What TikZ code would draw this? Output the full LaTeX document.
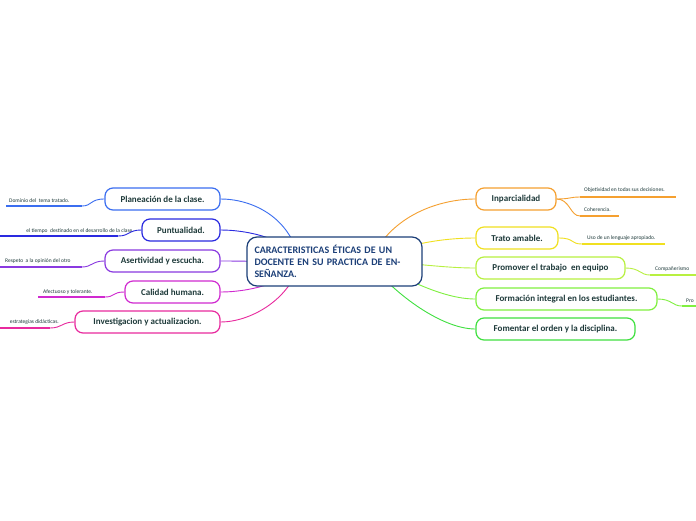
\documentclass[tikz,border=0pt]{standalone}
\usepackage{fontspec}
\setmainfont{Carlito}
\definecolor{txt}{HTML}{1E3A3A}
\definecolor{cb}{HTML}{1C3F78}
\definecolor{c1}{HTML}{3B6EF0}
\definecolor{c2}{HTML}{2A2AE0}
\definecolor{c3}{HTML}{8A3AE0}
\definecolor{c4}{HTML}{D02AD0}
\definecolor{c5}{HTML}{E82A9E}
\definecolor{r1}{HTML}{F5A030}
\definecolor{r2}{HTML}{F0E020}
\definecolor{r3}{HTML}{B8F040}
\definecolor{r4}{HTML}{80F040}
\definecolor{r5}{HTML}{40E040}
\tikzset{
 box/.style={draw=#1,line width=1.2pt,rounded corners=8pt,fill=white,text=txt,font=\fontsize{9}{10}\selectfont\bfseries,minimum height=22pt,inner xsep=10pt,anchor=center},
 leaf/.style={text=txt,font=\fontsize{5.5}{6}\selectfont,inner sep=1pt},
 con/.style={draw=#1,line width=0.9pt},
 ul/.style={draw=#1,line width=1.5pt},
}
\begin{document}
\begin{tikzpicture}[x=1pt,y=-1pt]
\useasboundingbox (0,0) rectangle (696,520);
\fill[white] (0,0) rectangle (696,520);
\coordinate (ccl) at (300,262);
\coordinate (ccr) at (370,262);
\node[box=c1,minimum width=115pt] (b1) at (162.5,199) {Planeación de la clase.};
\node[box=c2,minimum width=78pt] (b2) at (181,230) {Puntualidad.};
\node[box=c3,minimum width=115pt] (b3) at (162.5,261) {Asertividad y escucha.};
\node[box=c4,minimum width=95pt] (b4) at (172.5,292) {Calidad humana.};
\node[box=c5,minimum width=145pt] (b5) at (147.5,322) {Investigacion y actualizacion.};
\node[box=r1,minimum width=80pt] (d1) at (516,199) {Inparcialidad};
\node[box=r2,minimum width=82pt] (d2) at (517,238) {Trato amable.};
\node[box=r3,minimum width=149pt] (d3) at (550.5,268) {Promover el trabajo\ \ en equipo};
\node[box=r4,minimum width=181pt] (d4) at (566.5,299) {Formación integral en los estudiantes.};
\node[box=r5,minimum width=159pt] (d5) at (555.5,329) {Fomentar el orden y la disciplina.};
\draw[con=c1] (ccl) .. controls (290,215) and (250,199) .. (b1.east);
\draw[con=c2] (ccl) .. controls (290,240) and (250,230) .. (b2.east);
\draw[con=c3] (ccl) .. controls (280,262) and (250,261) .. (b3.east);
\draw[con=c4] (ccl) .. controls (290,282) and (250,292) .. (b4.east);
\draw[con=c5] (ccl) .. controls (290,300) and (250,322) .. (b5.east);
\draw[con=r1] (ccr) .. controls (390,215) and (440,199) .. (d1.west);
\draw[con=r2] (ccr) .. controls (400,245) and (440,238) .. (d2.west);
\draw[con=r3] (ccr) .. controls (410,262) and (440,268) .. (d3.west);
\draw[con=r4] (ccr) .. controls (400,275) and (440,299) .. (d4.west);
\draw[con=r5] (ccr) .. controls (390,290) and (440,329) .. (d5.west);
\node[draw=cb,line width=1.2pt,rounded corners=10pt,fill=white,text=cb,font=\fontsize{10}{12}\selectfont\bfseries,align=left,minimum width=175pt,minimum height=49pt,text width=160pt] (c) at (334.5,261.5) {CARACTERISTICAS ÉTICAS DE UN DOCENTE EN SU PRACTICA DE ENSEÑANZA.};
\node[leaf,anchor=south west] (l1) at (8,204) {Dominio del\ \ tema tratado.};
\coordinate (l1a) at (6,206); \coordinate (l1b) at (82,206);
\draw[ul=c1] (l1a) -- (l1b); \draw[con=c1] (l1b) .. controls (92,206) and (90,199) .. (b1.west);
\node[leaf,anchor=south east] (l2) at (135,235) {el tiempo\ \ destinado\ en el desarrollo de la clase.};
\coordinate (l2a) at (0,236); \coordinate (l2b) at (118,236);
\draw[ul=c2] (l2a) -- (l2b); \draw[con=c2] (l2b) .. controls (130,236) and (128,230) .. (b2.west);
\node[leaf,anchor=south west] (l3) at (4,265) {Respeto\ \ a la opinión del otro};
\coordinate (l3a) at (0,267); \coordinate (l3b) at (82,267);
\draw[ul=c3] (l3a) -- (l3b); \draw[con=c3] (l3b) .. controls (92,267) and (92,261) .. (b3.west);
\node[leaf,anchor=south west] (l4) at (42,296) {Afectuoso y tolerante.};
\coordinate (l4a) at (38,297); \coordinate (l4b) at (105,297);
\draw[ul=c4] (l4a) -- (l4b); \draw[con=c4] (l4b) .. controls (115,297) and (112,292) .. (b4.west);
\node[leaf,anchor=south east] (l5) at (60,326) {estrategias didácticas.};
\coordinate (l5a) at (0,328); \coordinate (l5b) at (50,328);
\draw[ul=c5] (l5a) -- (l5b); \draw[con=c5] (l5b) .. controls (62,328) and (62,322) .. (b5.west);
\node[leaf,anchor=south west] (m1) at (583,194) {Objetividad en todas sus decisiones.};
\coordinate (m1a) at (580,197); \coordinate (m1b) at (676,197);
\draw[ul=r1] (m1a) -- (m1b); \draw[con=r1] (d1.east) .. controls (570,199) and (570,197) .. (m1a);
\node[leaf,anchor=south west] (m2) at (583,213) {Coherencia.};
\coordinate (m2a) at (580,216); \coordinate (m2b) at (619,216);
\draw[ul=r1] (m2a) -- (m2b); \draw[con=r1] (d1.east) .. controls (570,199) and (570,216) .. (m2a);
\node[leaf,anchor=south west] (m3) at (586,242) {Uso de un lenguaje apropiado.};
\coordinate (m3a) at (582,244); \coordinate (m3b) at (665,244);
\draw[ul=r2] (m3a) -- (m3b); \draw[con=r2] (d2.east) .. controls (575,238) and (570,244) .. (m3a);
\node[leaf,anchor=south west] (m4) at (654,273) {Compañerismo};
\coordinate (m4a) at (650,275); \coordinate (m4b) at (700,275);
\draw[ul=r3] (m4a) -- (m4b); \draw[con=r3] (d3.east) .. controls (640,268) and (640,275) .. (m4a);
\node[leaf,anchor=south west] (m5) at (685,304) {Pro};
\coordinate (m5a) at (682,306); \coordinate (m5b) at (700,306);
\draw[ul=r4] (m5a) -- (m5b); \draw[con=r4] (d4.east) .. controls (672,299) and (672,306) .. (m5a);
\end{tikzpicture}
\end{document}
